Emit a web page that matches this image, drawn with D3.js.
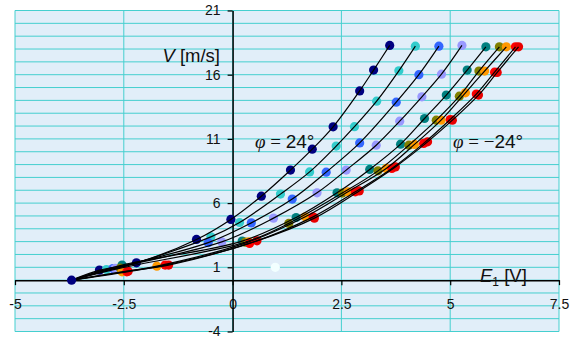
<!DOCTYPE html>
<html>
<head>
<meta charset="utf-8">
<script src="https://cdn.jsdelivr.net/npm/d3@7"></script>
<style>
  body { margin: 0; background: #fff; }
  svg { display: block; font-family: "Liberation Sans", Arial, sans-serif; }
</style>
</head>
<body>
<svg id="chart" width="574" height="337"></svg>
<script>
// probe angles, one series each
const phi = [24, 18, 12, 6, 0, -6, -12, -18, -24];
const colors = ['#000080', '#33CCCC', '#3366FF', '#9999FF', '#008080', '#808000', '#FF9900', '#FF0000', '#E80000'];

// E1 [V] per series
const E1 = [
  [-3.06, -2.21, -0.83, -0.04, 0.66, 1.33, 1.83, 2.31, 2.92, 3.24, 3.61],
  [-2.90, -2.52, -0.50, 0.16, 1.10, 1.77, 2.38, 2.80, 3.31, 3.82, 4.20],
  [-2.75, -0.56, 0.43, 1.37, 2.15, 2.92, 3.76, 4.28, 4.74],
  [-2.70, -0.25, 0.94, 1.94, 2.61, 3.30, 3.84, 4.35, 4.80, 5.27],
  [-2.54, 0.22, 1.46, 2.40, 3.15, 3.86, 4.41, 4.91, 5.39, 5.82],
  [-2.58, 0.29, 1.29, 2.52, 3.34, 4.05, 4.68, 5.21, 5.66, 6.13],
  [-2.54, -1.74, 0.37, 1.67, 2.65, 3.53, 4.18, 4.79, 5.35, 5.79, 6.29],
  [-2.43, -1.55, 0.39, 1.85, 2.82, 3.66, 4.39, 5.00, 5.60, 6.02, 6.50],
  [-2.40, -1.47, 0.56, 1.88, 2.91, 3.74, 4.48, 5.05, 5.65, 6.08, 6.57]
];

// V [m/s] per series
const V = [
  [0.78, 1.35, 3.17, 4.73, 6.54, 8.57, 10.20, 11.94, 14.74, 16.36, 18.28],
  [0.83, 1.04, 3.37, 4.49, 6.70, 8.43, 10.44, 11.95, 13.94, 16.30, 18.22],
  [0.90, 2.92, 4.46, 6.31, 8.41, 10.69, 13.86, 16.00, 18.22],
  [0.91, 2.98, 4.83, 6.80, 8.57, 10.51, 12.38, 14.28, 16.04, 18.28],
  [1.17, 3.04, 4.88, 6.80, 8.62, 10.59, 12.59, 14.41, 16.36, 18.17],
  [0.93, 2.96, 4.42, 6.78, 8.51, 10.51, 12.46, 14.33, 16.28, 18.17],
  [0.65, 1.09, 2.98, 4.93, 6.88, 8.70, 10.57, 12.46, 14.59, 16.28, 18.17],
  [0.65, 1.17, 2.86, 4.93, 6.88, 8.70, 10.65, 12.51, 14.49, 16.20, 18.17],
  [0.70, 1.17, 3.06, 4.83, 6.95, 8.82, 10.77, 12.46, 14.41, 16.18, 18.17]
];

// common zero-flow point all curves start from
const startE = -3.7;
const startV = 0;

// lone point near the x axis
const extraE = [0.98];
const extraV = [1.0];

const xTicks = [-5, -2.5, 0, 2.5, 5, 7.5];
const yTicks = [-4, 1, 6, 11, 16, 21];

const svg = d3.select('#chart');

const x = d3.scaleLinear().domain([-5, 7.5]).range([15, 559]);
const y = d3.scaleLinear().domain([-4, 21]).range([331.5, 10.5]);

// plot area
svg.append('rect')
  .attr('x', x(-5)).attr('y', y(21))
  .attr('width', x(7.5) - x(-5)).attr('height', y(-4) - y(21))
  .attr('fill', '#E1EEF9');

const grid = svg.append('g').attr('stroke', '#45CFCF').attr('stroke-width', 1);
grid.selectAll('line.h')
  .data(d3.range(-4, 22, 1))
  .enter().append('line')
  .attr('class', 'h')
  .attr('x1', x(-5)).attr('x2', x(7.5))
  .attr('y1', d => y(d)).attr('y2', d => y(d));
grid.selectAll('line.v')
  .data(xTicks)
  .enter().append('line')
  .attr('class', 'v')
  .attr('y1', y(-4)).attr('y2', y(21))
  .attr('x1', d => x(d)).attr('x2', d => x(d));

// axes crossing at the origin
const xAxis = svg.append('g')
  .attr('transform', 'translate(0,' + y(0) + ')')
  .call(d3.axisBottom(x).tickValues(xTicks).tickSize(5).tickSizeOuter(0).tickFormat(d3.format('')));
const yAxis = svg.append('g')
  .attr('transform', 'translate(' + x(0) + ',0)')
  .call(d3.axisLeft(y).tickValues(yTicks).tickSize(5).tickSizeOuter(0).tickFormat(d3.format('')));

[xAxis, yAxis].forEach(function(a) {
  a.select('.domain').attr('stroke', '#000').attr('stroke-width', 1.5);
  a.selectAll('.tick line').attr('stroke', '#000').attr('stroke-width', 1.2);
  a.selectAll('.tick text')
    .attr('fill', '#111')
    .style('font-size', '14px')
    .style('font-family', '"Liberation Sans", Arial, sans-serif');
});
xAxis.selectAll('.tick text').attr('dy', 0).attr('y', 28.5);
xAxis.selectAll('.tick text').text(d => String(d).replace('−', '-'));
yAxis.selectAll('.tick text').attr('x', -12);
yAxis.selectAll('.tick text').text(d => String(d).replace('−', '-'));

// markers
const series = phi.map((p, i) => ({
  phi: p,
  color: colors[i],
  pts: E1[i].map((e, j) => ({ e: e, v: V[i][j] }))
}));

const dots = svg.append('g');
series.forEach(function(s) {
  dots.selectAll(null)
    .data(s.pts)
    .enter().append('circle')
    .attr('cx', d => x(d.e))
    .attr('cy', d => y(d.v))
    .attr('r', 4.6)
    .attr('fill', s.color);
});
dots.selectAll(null)
  .data(extraE.map((e, j) => ({ e: e, v: extraV[j] })))
  .enter().append('circle')
  .attr('cx', d => x(d.e))
  .attr('cy', d => y(d.v))
  .attr('r', 4.6)
  .attr('fill', '#F2FFFF');

// fitted curves
const line = d3.line()
  .x(d => x(d.e))
  .y(d => y(d.v))
  .curve(d3.curveCatmullRom.alpha(0.5));

svg.append('g')
  .selectAll('path')
  .data(series)
  .enter().append('path')
  .attr('d', s => line([{ e: startE, v: startV }].concat(s.pts)))
  .attr('fill', 'none')
  .attr('stroke', '#000')
  .attr('stroke-width', 1.2);

svg.append('circle')
  .attr('cx', x(startE)).attr('cy', y(startV))
  .attr('r', 4.6)
  .attr('fill', colors[0]);

// axis titles
const vt = svg.append('text')
  .attr('x', 220).attr('y', 62)
  .attr('text-anchor', 'end')
  .style('font-size', '18.5px')
  .attr('fill', '#111');
vt.append('tspan').style('font-style', 'italic').text('V');
vt.append('tspan').text(' [m/s]');

const et = svg.append('text')
  .attr('x', 480).attr('y', 281.5)
  .style('font-size', '18.5px')
  .attr('fill', '#111');
et.append('tspan').style('font-style', 'italic').text('E');
et.append('tspan').attr('dy', 4).style('font-size', '12px').text('1');
et.append('tspan').attr('dy', -4).text(' [V]');

// angle labels
function phiLabel(px, txt) {
  const t = svg.append('text')
    .attr('x', px).attr('y', 148)
    .style('font-size', '19px')
    .attr('fill', '#111');
  t.append('tspan')
    .style('font-family', '"Liberation Serif", "Times New Roman", serif')
    .style('font-style', 'italic')
    .text('φ');
  t.append('tspan')
    .style('font-family', '"Liberation Serif", "Times New Roman", serif')
    .text(' = ' + (txt < 0 ? '−' : ''));
  t.append('tspan').text(Math.abs(txt) + '°');
}
phiLabel(255, phi[0]);
phiLabel(453, phi[phi.length - 1]);
</script>
</body>
</html>
